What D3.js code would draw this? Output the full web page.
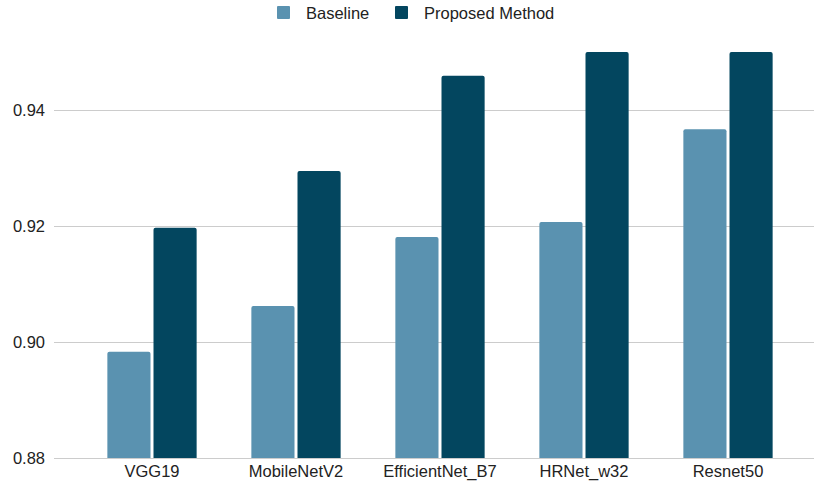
<!DOCTYPE html>
<html>
<head>
<meta charset="utf-8">
<script src="https://cdn.jsdelivr.net/npm/d3@7"></script>
<style>
  html, body { margin: 0; padding: 0; background: #fff; }
  svg { display: block; font-family: "Liberation Sans", Arial, sans-serif; }
</style>
</head>
<body>
<svg id="chart" width="814" height="488"></svg>
<script>
// Accuracy per backbone model
const categories = ["VGG19", "MobileNetV2", "EfficientNet_B7", "HRNet_w32", "Resnet50"];
const seriesNames = ["Baseline", "Proposed Method"];
const baseline = [0.8983, 0.9062, 0.9181, 0.9207, 0.9367];
const proposed = [0.9197, 0.9295, 0.9459, 0.9562, 0.9581];
const yTicks = [0.88, 0.90, 0.92, 0.94];
const colors = ["#5a92b0", "#03465f"];

const svg = d3.select("#chart");
const margin = { top: 52, right: 14, bottom: 30, left: 80 };
const W = 814, H = 488;
const plotRight = 800;
const fontSize = 16.5;

const x0 = d3.scaleBand().domain(categories).range([margin.left, plotRight]).paddingInner(0.38).paddingOuter(0.19);
const x1 = d3.scaleBand().domain(seriesNames).range([0, x0.bandwidth()]).paddingInner(0.065);
const y = d3.scaleLinear().domain([0.88, 0.95]).range([H - margin.bottom, margin.top]).clamp(true);

// gridlines
svg.append("g").selectAll("line").data(yTicks).join("line")
  .attr("x1", 54).attr("x2", W)
  .attr("y1", d => Math.round(y(d)) + 0.5).attr("y2", d => Math.round(y(d)) + 0.5)
  .attr("stroke", "#cccccc").attr("stroke-width", 1);

// y axis labels
svg.append("g").selectAll("text").data(yTicks).join("text")
  .attr("x", 45).attr("y", d => y(d))
  .attr("dy", "0.35em").attr("text-anchor", "end")
  .attr("font-size", fontSize).attr("fill", "#222")
  .text(d => d3.format(".2f")(d));

// bars with rounded top corners
function barPath(x, yTop, w, yBase, r) {
  r = Math.min(r, (yBase - yTop));
  return `M${x},${yBase}V${yTop + r}Q${x},${yTop} ${x + r},${yTop}H${x + w - r}Q${x + w},${yTop} ${x + w},${yTop + r}V${yBase}Z`;
}

const rows = categories.map((c, i) => ({ cat: c, vals: [baseline[i], proposed[i]] }));
const groups = svg.append("g").selectAll("g").data(rows).join("g")
  .attr("transform", d => `translate(${x0(d.cat)},0)`);
groups.selectAll("path").data(d => d.vals.map((v, j) => ({ v, s: seriesNames[j], j }))).join("path")
  .attr("d", d => barPath(x1(d.s), y(d.v), x1.bandwidth(), y(0.88), 2))
  .attr("fill", d => colors[d.j]);

// x axis labels
svg.append("g").selectAll("text").data(categories).join("text")
  .attr("x", d => x0(d) + x0.bandwidth() / 2).attr("y", 477)
  .attr("text-anchor", "middle").attr("font-size", fontSize).attr("fill", "#222")
  .text(d => d);

// legend
const legend = svg.append("g");
const legendItems = [{ name: seriesNames[0], x: 277 }, { name: seriesNames[1], x: 395 }];
legendItems.forEach((it, i) => {
  legend.append("rect").attr("x", it.x).attr("y", 6).attr("width", 13).attr("height", 13)
    .attr("rx", 1).attr("fill", colors[i]);
  legend.append("text").attr("x", it.x + 29).attr("y", 13).attr("dy", "0.35em")
    .attr("font-size", fontSize).attr("fill", "#222").text(it.name);
});
</script>
</body>
</html>
